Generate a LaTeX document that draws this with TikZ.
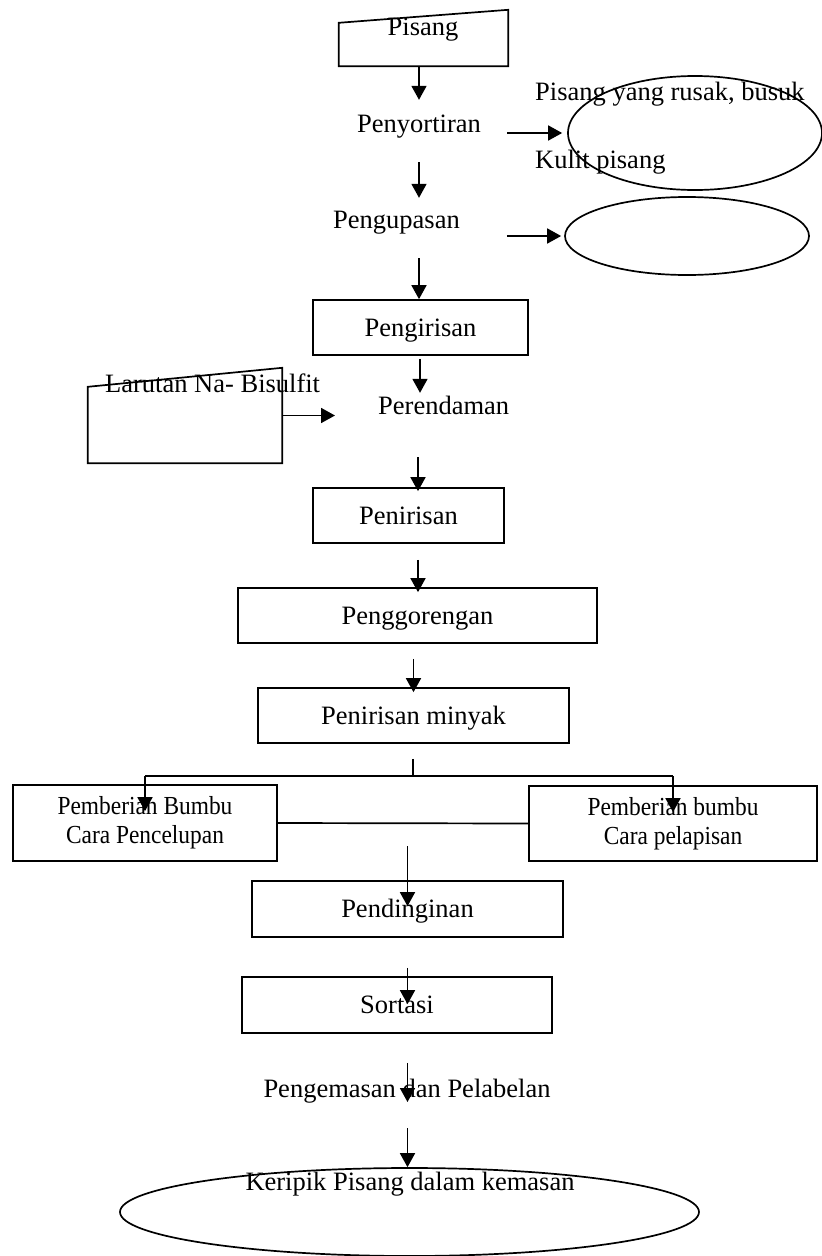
\documentclass[tikz,border=0pt]{standalone}
\usepackage{fontspec}
\setmainfont{Liberation Serif}
\newfontfamily\sempit[FakeStretch=0.9]{Liberation Serif}
\usetikzlibrary{arrows.meta,shapes.geometric}
\tikzset{
  teks/.style={inner sep=0pt, text height=18pt, text depth=6pt, font=\fontsize{26.5}{30}\selectfont},
  kotak/.style={draw, line width=1.7pt, inner sep=0pt, text height=17pt, text depth=0pt, font=\fontsize{26.5}{30}\selectfont},
  kotakdua/.style={draw, line width=1.7pt, inner sep=0pt, align=center, font=\sempit\fontsize{26}{29}\selectfont},
  limbah/.style={draw, ellipse, line width=1.7pt, inner sep=0pt},
  alur/.style={line width=1.7pt, -{Triangle[length=14pt,width=15pt]}},
  garis/.style={line width=1.7pt}
}
\begin{document}
\begin{tikzpicture}[x=1pt,y=-1pt]
    \useasboundingbox (0,0) rectangle (822,1256);
    \coordinate (kolom) at (419,0);
    \coordinate (kolombawah) at (418,0);

    \node[minimum width=169pt, minimum height=56pt, inner sep=0pt] (wadah) at (423.5,38) {};
    \draw[garis] (wadah.south west) -- (wadah.south east) -- (wadah.north east) -- ([yshift=-13pt]wadah.north west) -- cycle;
    \node[teks, anchor=base] (pisang) at (423,35) {Pisang};

    \node[limbah, minimum width=254pt, minimum height=114pt] (buang) at (695,133) {};
    \node[limbah, minimum width=244pt, minimum height=78pt] (buangkulit) at (687,236) {};
    \node[teks, anchor=base west] (sortir) at (357,132) {Penyortiran};
    \node[teks, anchor=base west] (rusak) at (535,100) {Pisang yang rusak, busuk};
    \node[teks, anchor=base west] (kulit) at (535,168) {Kulit pisang};
    \node[teks, anchor=base west] (kupas) at (333,228) {Pengupasan};

    \node[kotak, minimum width=215pt, minimum height=55pt] (iris) at (420.5,327.5) {Pengirisan};

    \node[minimum width=194pt, minimum height=95pt, inner sep=0pt] (wadahlarutan) at (185,415.5) {};
    \draw[garis] (wadahlarutan.south west) -- (wadahlarutan.south east) -- (wadahlarutan.north east) -- ([yshift=-19pt]wadahlarutan.north west) -- cycle;
    \node[teks, anchor=base west] (larutan) at (105,392) {Larutan Na- Bisulfit};
    \node[teks, anchor=base west] (rendam) at (378,414) {Perendaman};

    \node[kotak, minimum width=191pt, minimum height=55pt] (tiris) at (408.5,515.5) {Penirisan};
    \node[kotak, minimum width=359pt, minimum height=55pt] (goreng) at (417.5,615.5) {Penggorengan};
    \node[kotak, minimum width=311pt, minimum height=55pt] (minyak) at (413.5,715.5) {Penirisan minyak};

    \node[kotakdua, minimum width=264pt, minimum height=76pt] (celup) at (145,823) {Pemberian Bumbu\\Cara Pencelupan};
    \node[kotakdua, minimum width=288pt, minimum height=75pt] (lapis) at (673,823.5) {Pemberian bumbu\\Cara pelapisan};
    \coordinate (cabang) at (413,776);

    \node[kotak, minimum width=311pt, minimum height=56pt] (dingin) at (407.5,909) {Pendinginan};
    \node[kotak, minimum width=310pt, minimum height=56pt] (sortasi) at (397,1005) {Sortasi};
    \node[teks, anchor=base] (kemas) at (407,1097) {Pengemasan dan Pelabelan};
    \node[limbah, minimum width=579pt, minimum height=88pt] (keripikel) at (409.5,1212) {};
    \node[teks, anchor=base] (keripik) at (410,1190) {Keripik Pisang dalam kemasan};

    \draw[alur, shorten >=14pt] (wadah.south -| kolom) -- (sortir.north -| kolom);
    \draw[alur, shorten <=24pt, shorten >=12pt] (sortir.south -| kolom) -- (kupas.north -| kolom);
    \draw[alur, shorten <=24pt] (kupas.south -| kolom) -- (iris.north -| kolom);
    \draw[alur, shorten <=26pt, shorten >=5pt] (buang.west -| sortir.east) -- (buang.west);
    \draw[alur, shorten <=47pt, shorten >=3pt] (buangkulit.west -| kupas.east) -- (buangkulit.west);
    \draw[alur, shorten <=3pt, shorten >=3pt] ([xshift=1pt]iris.south -| kolom) -- ([xshift=1pt]rendam.north -| kolom);
    \draw[alur, shorten >=43pt] (wadahlarutan.east) -- (wadahlarutan.east -| rendam.west);
    \draw[alur, shorten <=37pt, shorten >=-4pt] (rendam.south -| kolombawah) -- (tiris.north -| kolombawah);
    \draw[alur, shorten <=16pt, shorten >=-5pt] (tiris.south -| kolombawah) -- (goreng.north -| kolombawah);
    \draw[alur, shorten <=15pt, shorten >=-5pt] (goreng.south -| minyak.north) -- (minyak.north);

    \draw[garis, shorten <=15pt] (minyak.south -| cabang) -- (cabang);
    \draw[garis] (celup.north |- cabang) -- (lapis.north |- cabang);
    \draw[alur] (celup.north |- cabang) -- ([yshift=-27pt]celup.north);
    \draw[alur] (lapis.north |- cabang) -- ([yshift=-27pt]lapis.north);
    \draw[garis] (celup.east) -- (lapis.west);

    \draw[alur] ([yshift=34pt]dingin.north) -- ([yshift=-26pt]dingin.north);
    \draw[alur] ([yshift=-30pt]dingin.south) -- ([yshift=-28pt]dingin.south |- sortasi.north);
    \draw[alur] ([yshift=-29pt]sortasi.south -| dingin.south) -- ([yshift=-5pt]kemas.base -| dingin.south);
    \draw[alur] ([yshift=-25pt]kemas.south -| dingin.south) -- (keripikel.north -| dingin.south);
\end{tikzpicture}
\end{document}
